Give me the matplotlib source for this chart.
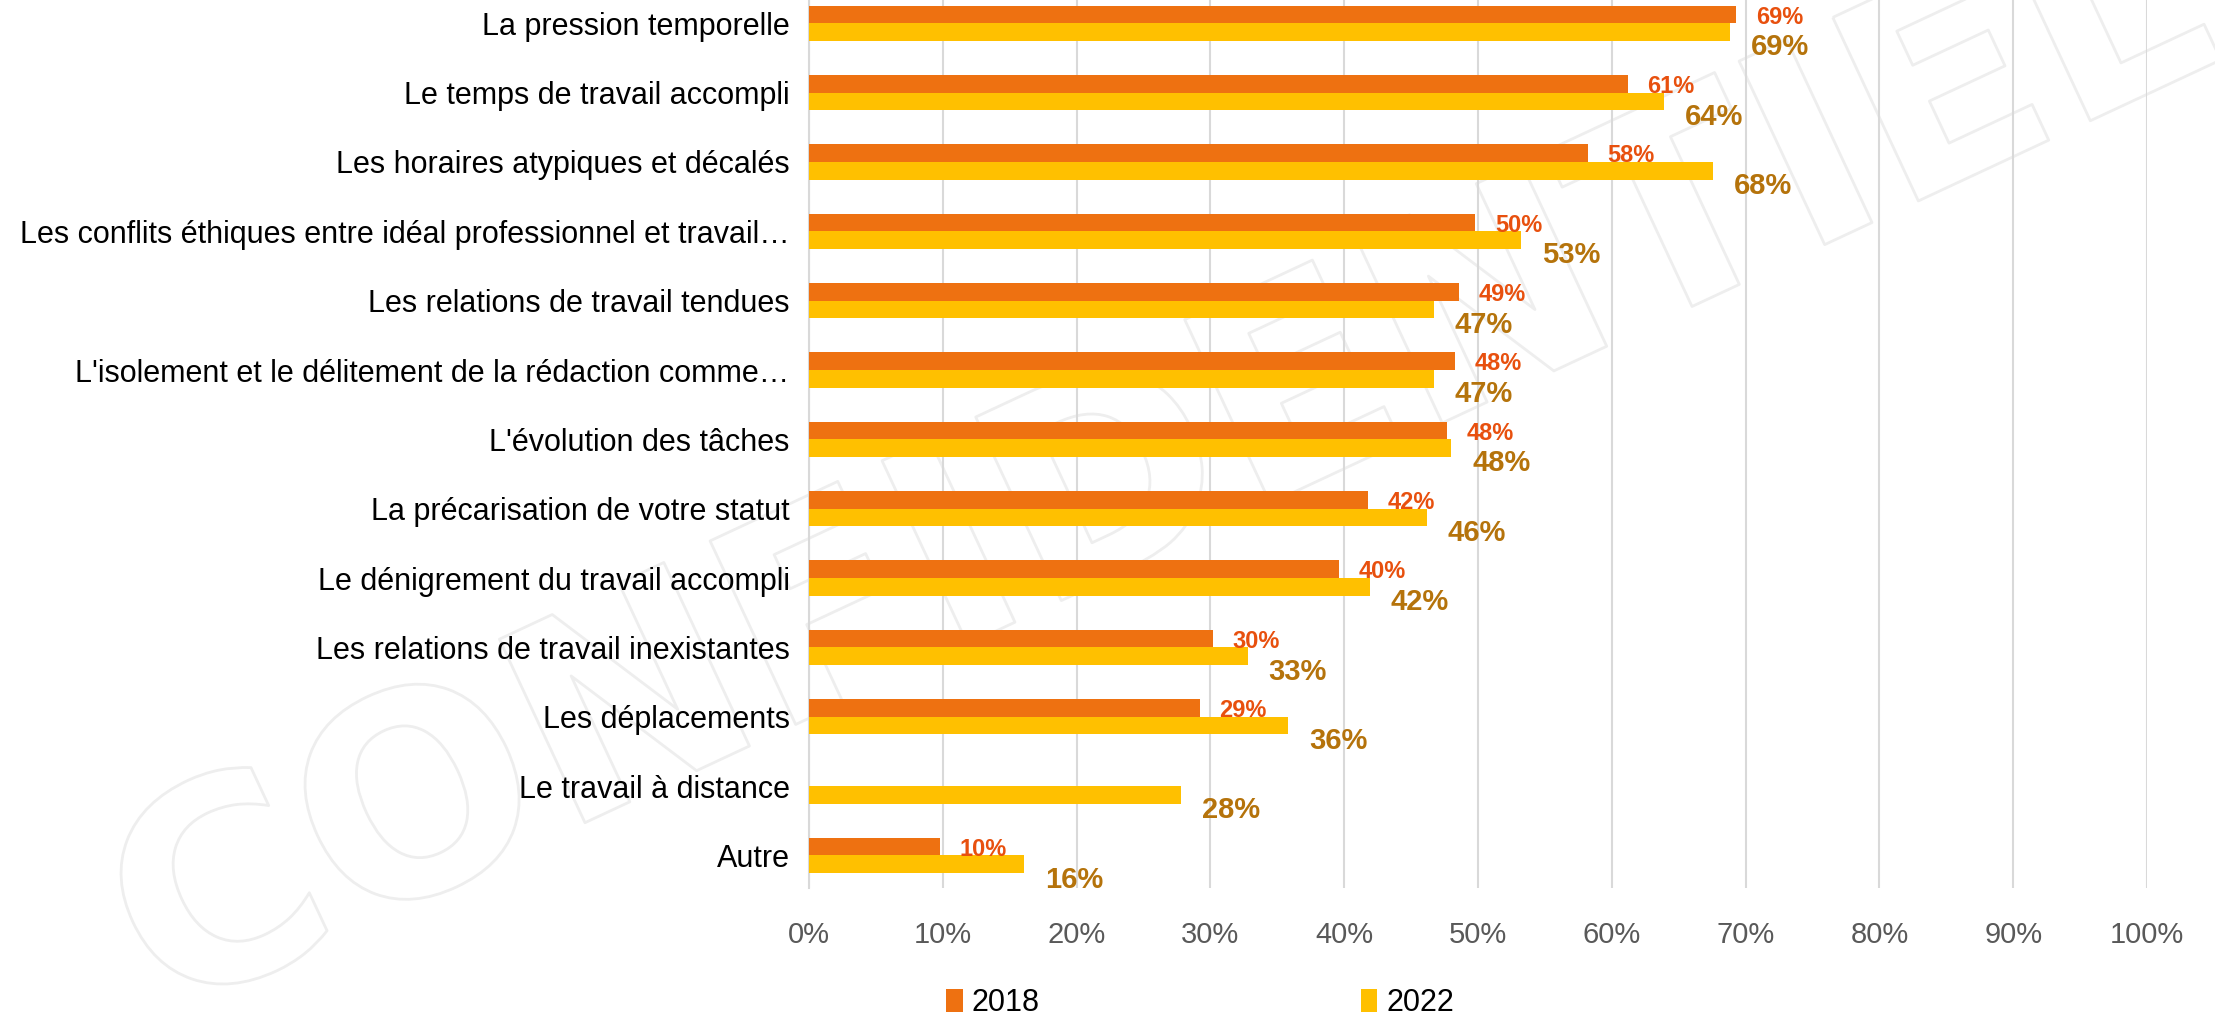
import matplotlib
matplotlib.use("Agg")
import matplotlib.pyplot as plt
import matplotlib.patheffects as pe
import numpy as np
from matplotlib.ticker import PercentFormatter

categories = [
    "La pression temporelle",
    "Le temps de travail accompli",
    "Les horaires atypiques et décalés",
    "Les conflits éthiques entre idéal professionnel et travail…",
    "Les relations de travail tendues",
    "L'isolement et le délitement de la rédaction comme…",
    "L'évolution des tâches",
    "La précarisation de votre statut",
    "Le dénigrement du travail accompli",
    "Les relations de travail inexistantes",
    "Les déplacements",
    "Le travail à distance",
    "Autre",
]
v2018 = [69.3, 61.2, 58.2, 49.8, 48.6, 48.3, 47.7, 41.8, 39.6, 30.2, 29.2, np.nan, 9.8]
v2022 = [68.8, 63.9, 67.6, 53.2, 46.7, 46.7, 48.0, 46.2, 41.9, 32.8, 35.8, 27.8, 16.1]

c2018 = "#EE7111"
c2022 = "#FFC000"
lab2018 = "#E8500E"
lab2022 = "#B5730B"

plt.rcParams["font.family"] = ["Liberation Sans", "DejaVu Sans"]

fig = plt.figure(figsize=(22.15, 10.18), dpi=100)
ax = fig.add_axes([809 / 2215, 1 - 888 / 1018, (2147 - 809) / 2215, 888 / 1018])

y = np.arange(len(categories))
h = 0.255

# filigrane "CONFIDENTIEL" en arrière-plan
ax.text(0.525, 0.54, "CONFIDENTIEL", rotation=25, ha="center", va="center",
        fontsize=200, fontweight="bold", color="none", zorder=1,
        family="DejaVu Sans", transform=fig.transFigure, clip_on=False,
        path_effects=[pe.withStroke(linewidth=2, foreground="#EEEEEE")])

ax.barh(y - h / 2, v2018, height=h, color=c2018, label="2018", zorder=3)
ax.barh(y + h / 2, v2022, height=h, color=c2022, label="2022", zorder=3)

for i in range(len(categories)):
    if not np.isnan(v2018[i]):
        ax.annotate(f"{v2018[i]:.0f}%", (v2018[i], y[i] - h / 2), xytext=(14, -2),
                    textcoords="offset points", ha="left", va="center",
                    fontsize=17, fontweight="bold", color=lab2018, zorder=5)
    ax.annotate(f"{v2022[i]:.0f}%", (v2022[i], y[i] + h / 2), xytext=(15, -11),
                textcoords="offset points", ha="left", va="center",
                fontsize=21, fontweight="bold", color=lab2022, zorder=5)

ax.set_xlim(0, 100)
ax.set_ylim(12.47, -0.336)
ax.set_xticks(np.arange(0, 101, 10))
ax.xaxis.set_major_formatter(PercentFormatter(decimals=0))
ax.set_yticks(y)
ax.set_yticklabels(categories, fontsize=22, color="black")
ax.tick_params(axis="x", labelsize=21, labelcolor="#595959", length=0, pad=24)
ax.tick_params(axis="y", length=0, pad=14)
ax.grid(axis="x", color="#D9D9D9", linewidth=1.5, zorder=0)
for s in ["top", "right", "bottom"]:
    ax.spines[s].set_visible(False)
ax.spines["left"].set_color("#D9D9D9")
ax.spines["left"].set_linewidth(1.5)

leg = fig.legend(loc="center", bbox_to_anchor=(1200 / 2215, 1 - 1003 / 1018), ncol=2,
                 frameon=False, fontsize=22, handlelength=0.55, handleheight=0.8,
                 handletextpad=0.3, columnspacing=10.5)

fig.savefig("out.png", dpi=100)
